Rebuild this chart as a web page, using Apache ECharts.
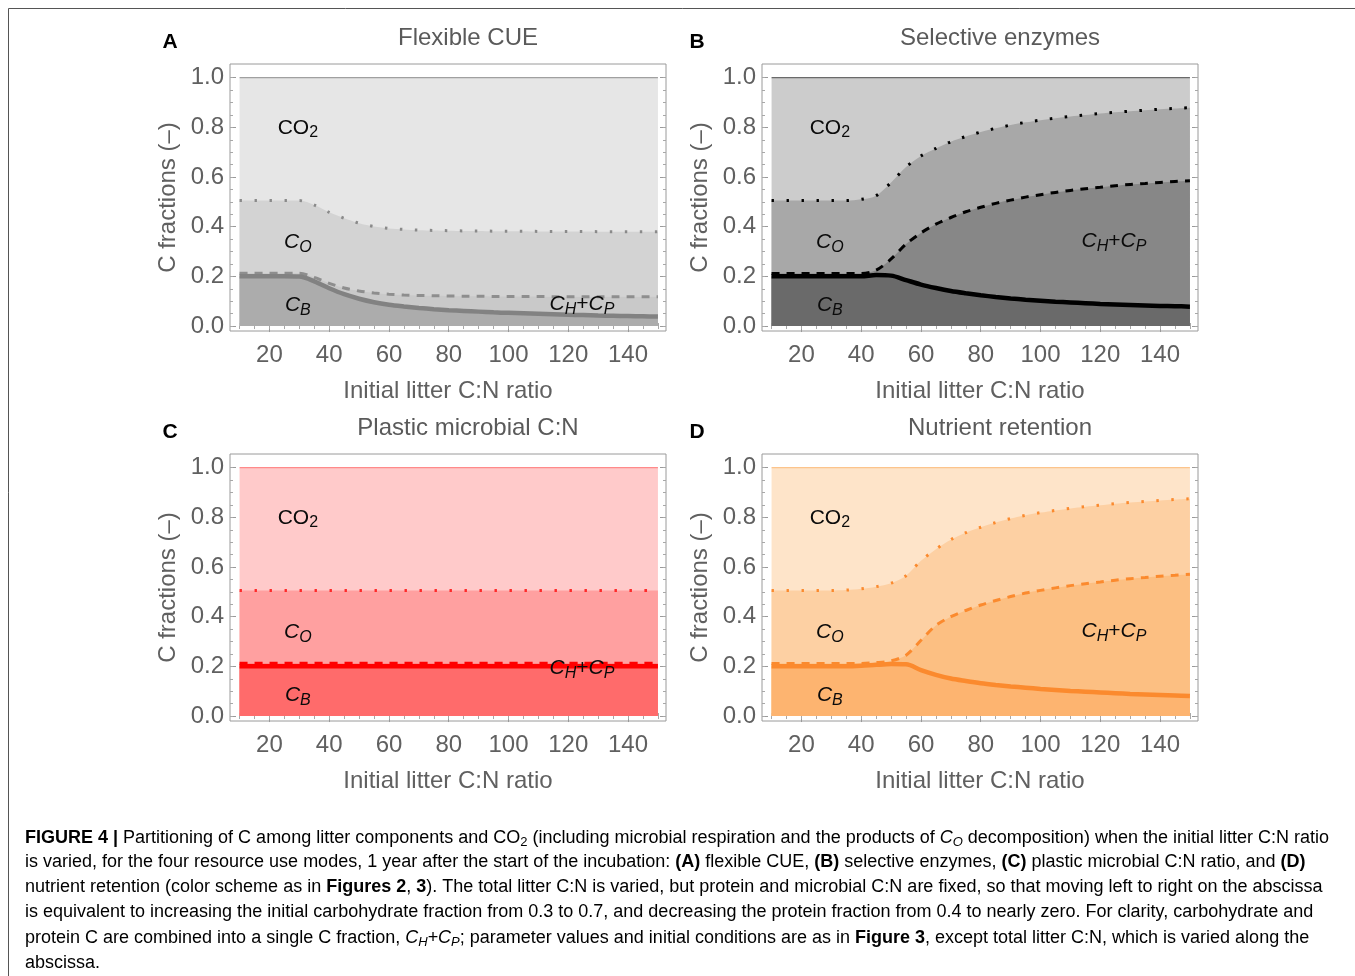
<!DOCTYPE html>
<html>
<head>
<meta charset="utf-8">
<title>Figure 4</title>
<script src="https://cdn.jsdelivr.net/npm/echarts@6.0.0/dist/echarts.min.js"></script>
<style>
html,body{margin:0;padding:0;background:#fff;}
#chart{width:1355px;height:976px;}
</style>
</head>
<body>
<div id="chart"></div>
<script>
// initial litter C:N (abscissa)
var cn = [10,15,20,25,30,35,40,45,50,55,60,65,70,75,80,85,90,95,100,105,110,115,120,125,130,135,140,145,150];
var xTicks = [20,40,60,80,100,120,140];
var xMinor = [10,15,20,25,30,35,40,45,50,55,60,65,70,75,80,85,90,95,100,105,110,115,120,125,130,135,140,145,150];
var yTicks = [0,0.2,0.4,0.6,0.8,1.0];
var yMinor = [0,0.05,0.1,0.15,0.2,0.25,0.3,0.35,0.4,0.45,0.5,0.55,0.6,0.65,0.7,0.75,0.8,0.85,0.9,0.95,1.0];
// total (top of CO2 band)
var total = [1,1,1,1,1,1,1,1,1,1,1,1,1,1,1,1,1,1,1,1,1,1,1,1,1,1,1,1,1];

// A flexible CUE : C_B (solid), C_B+C_H+C_P (dashed), +C_O (dotted)
var cueB  = [0.200,0.200,0.200,0.200,0.199,0.180,0.152,0.128,0.110,0.096,0.086,0.079,0.073,0.068,0.064,0.061,0.058,0.055,0.053,0.051,0.049,0.047,0.045,0.044,0.042,0.041,0.040,0.039,0.038];
var cueHP = [0.213,0.213,0.213,0.213,0.213,0.196,0.172,0.153,0.141,0.133,0.128,0.125,0.123,0.122,0.121,0.120,0.120,0.119,0.119,0.119,0.119,0.118,0.118,0.118,0.118,0.118,0.118,0.118,0.118];
var cueO  = [0.505,0.505,0.505,0.505,0.505,0.487,0.458,0.434,0.414,0.401,0.393,0.389,0.386,0.385,0.384,0.383,0.383,0.382,0.382,0.382,0.381,0.381,0.381,0.381,0.380,0.380,0.380,0.380,0.380];

// B selective enzymes
var enzB  = [0.200,0.200,0.200,0.200,0.200,0.200,0.200,0.205,0.203,0.185,0.167,0.153,0.141,0.132,0.124,0.117,0.111,0.106,0.102,0.098,0.095,0.092,0.089,0.087,0.085,0.083,0.081,0.080,0.078];
var enzHP = [0.212,0.212,0.212,0.212,0.212,0.212,0.212,0.225,0.270,0.330,0.375,0.410,0.437,0.460,0.478,0.494,0.507,0.519,0.529,0.538,0.546,0.553,0.559,0.565,0.570,0.574,0.578,0.582,0.585];
var enzO  = [0.505,0.505,0.505,0.505,0.505,0.505,0.510,0.525,0.578,0.640,0.685,0.715,0.742,0.763,0.781,0.796,0.809,0.820,0.829,0.837,0.844,0.850,0.856,0.861,0.865,0.869,0.873,0.876,0.879];

// C plastic microbial C:N
var plaB  = [0.200,0.200,0.200,0.200,0.200,0.200,0.200,0.200,0.200,0.200,0.200,0.200,0.200,0.200,0.200,0.200,0.200,0.200,0.200,0.200,0.200,0.200,0.200,0.200,0.200,0.200,0.200,0.200,0.200];
var plaHP = [0.213,0.213,0.213,0.213,0.213,0.213,0.213,0.213,0.213,0.213,0.213,0.213,0.213,0.213,0.213,0.213,0.213,0.213,0.213,0.213,0.213,0.213,0.213,0.213,0.213,0.213,0.213,0.213,0.213];
var plaO  = [0.505,0.505,0.505,0.505,0.505,0.505,0.505,0.505,0.505,0.505,0.505,0.505,0.505,0.505,0.505,0.505,0.505,0.505,0.505,0.505,0.505,0.505,0.505,0.505,0.505,0.505,0.505,0.505,0.505];

// D nutrient retention
var nutB  = [0.200,0.200,0.200,0.200,0.200,0.200,0.202,0.206,0.209,0.208,0.185,0.166,0.151,0.141,0.132,0.125,0.119,0.114,0.109,0.105,0.101,0.098,0.095,0.092,0.089,0.087,0.085,0.083,0.081];
var nutHP = [0.212,0.212,0.212,0.212,0.212,0.212,0.212,0.215,0.222,0.245,0.305,0.365,0.400,0.425,0.447,0.465,0.481,0.495,0.506,0.516,0.525,0.533,0.540,0.547,0.553,0.558,0.563,0.567,0.571];
var nutO  = [0.505,0.505,0.505,0.505,0.505,0.507,0.512,0.521,0.535,0.565,0.625,0.672,0.710,0.738,0.760,0.779,0.795,0.808,0.819,0.828,0.836,0.843,0.849,0.855,0.860,0.864,0.868,0.872,0.875];

var font = 'Liberation Sans, Arial, Helvetica, sans-serif';
var axisGray = '#606060';

var panels = [
	{letter:'A', letterX:170, title:'Flexible CUE', left:230, top:64, b:cueB, hp:cueHP, o:cueO,
		fill:['#e6e6e6','#d3d3d3','#c9c9c9','#acacac'], topLine:'#a0a0a0', lineC:['#8a8a8a','#8e8e8e','#828282'],
		labels:[['co2',29.5,0.797],['co',29.5,0.338],['cb',29.5,0.084],['chp',124.6,0.088]]},
	{letter:'B', letterX:697, title:'Selective enzymes', left:762, top:64, b:enzB, hp:enzHP, o:enzO,
		fill:['#cccccc','#a8a8a8','#878787','#6a6a6a'], topLine:'#6a6a6a', lineC:['#000','#000','#000'],
		labels:[['co2',29.5,0.797],['co',29.5,0.338],['cb',29.5,0.084],['chp',124.6,0.342]]},
	{letter:'C', letterX:170, title:'Plastic microbial C:N', left:230, top:454, b:plaB, hp:plaHP, o:plaO,
		fill:['#ffcaca','#ffa0a0','#ff8585','#ff6b6b'], topLine:'#ff8a8a', lineC:['#ff2a2a','#ff0000','#ff0000'],
		labels:[['co2',29.5,0.797],['co',29.5,0.338],['cb',29.5,0.084],['chp',124.6,0.192]]},
	{letter:'D', letterX:697, title:'Nutrient retention', left:762, top:454, b:nutB, hp:nutHP, o:nutO,
		fill:['#fee4c9','#fdd0a3','#fcbf82','#fdb470'], topLine:'#fcc48c', lineC:['#fb8a2e','#fb8a2e','#fb8a2e'],
		labels:[['co2',29.5,0.797],['co',29.5,0.338],['cb',29.5,0.084],['chp',124.6,0.342]]}
];

// labels inside the plots
var labelText = {
	co2: '{n|CO}{s|2}',
	co: '{i|C}{si|O}',
	cb: '{i|C}{si|B}',
	chp: '{i|C}{si|H}{n|+}{i|C}{si|P}'
};
var plotRich = {
	n: {fontFamily:font, fontSize:21, fill:'#0a0a0a', lineHeight:26},
	i: {fontFamily:font, fontSize:21, fontStyle:'italic', fill:'#0a0a0a', lineHeight:26},
	s: {fontFamily:font, fontSize:16, fill:'#0a0a0a', lineHeight:16, padding:[10,0,0,0]},
	si: {fontFamily:font, fontSize:16, fontStyle:'italic', fill:'#0a0a0a', lineHeight:16, padding:[10,0,0,0]}
};

function pairs(vals){
	return cn.map(function(x, k){ return [x, vals[k]]; });
}

var grids = [], xAxes = [], yAxes = [], series = [], graphics = [];

panels.forEach(function(p, i){
	grids.push({left:p.left, top:p.top, width:436, height:267, show:true, borderColor:'#9a9a9a', borderWidth:1});
	var ax = xAxes.length, ay = yAxes.length;
	p.ax = ax; p.ay = ay;
	// x axes: bottom major/minor, top major/minor
	['bottom','top'].forEach(function(pos){
		xAxes.push({type:'value', gridIndex:i, position:pos, min:6.8, max:152.7,
			axisLine:{show:false}, splitLine:{show:false},
			axisTick:{inside:true, length:6, lineStyle:{color:'#9a9a9a'}, customValues:xTicks},
			axisLabel: pos === 'bottom' ? {customValues:xTicks, margin:12, fontFamily:font, fontSize:24, color:axisGray} : {show:false},
			name: pos === 'bottom' ? 'Initial litter C:N ratio' : '',
			nameLocation:'middle', nameGap:48,
			nameTextStyle:{fontFamily:font, fontSize:24, color:axisGray}});
		xAxes.push({type:'value', gridIndex:i, position:pos, min:6.8, max:152.7,
			axisLine:{show:false}, splitLine:{show:false}, axisLabel:{show:false},
			axisTick:{inside:true, length:3, lineStyle:{color:'#a8a8a8'}, customValues:xMinor}});
	});
	['left','right'].forEach(function(pos){
		yAxes.push({type:'value', gridIndex:i, position:pos, min:-0.02, max:1.055,
			axisLine:{show:false}, splitLine:{show:false},
			axisTick:{inside:true, length:6, lineStyle:{color:'#9a9a9a'}, customValues:yTicks},
			axisLabel: pos === 'left' ? {customValues:yTicks, margin:6, fontFamily:font, fontSize:24, color:axisGray,
				formatter:function(v){ return v.toFixed(1); }} : {show:false},
			name: pos === 'left' ? 'C fractions (\u2013)' : '',
			nameLocation:'middle', nameGap:50,
			nameTextStyle:{fontFamily:font, fontSize:24, color:axisGray}});
		yAxes.push({type:'value', gridIndex:i, position:pos, min:-0.02, max:1.055,
			axisLine:{show:false}, splitLine:{show:false}, axisLabel:{show:false},
			axisTick:{inside:true, length:3, lineStyle:{color:'#a8a8a8'}, customValues:yMinor}});
	});

	// bands drawn top first, each filled down to 0
	var bands = [
		[total, p.fill[0], {color:p.topLine, width:1.2}],
		[p.o, p.fill[1], {color:p.lineC[0], width:3, type:[2.5,12.5]}],
		[p.hp, p.fill[2], {color:p.lineC[1], width:3, type:[8,7]}],
		[p.b, p.fill[3], {color:p.lineC[2], width:4.5}]
	];
	bands.forEach(function(bd){
		series.push({type:'line', xAxisIndex:ax, yAxisIndex:ay, data:pairs(bd[0]),
			symbol:'none', smooth:0.3, silent:true,
			lineStyle:bd[2], areaStyle:{color:bd[1], opacity:1}});
	});

	// title + panel letter
	graphics.push({type:'text', x:p.left + 238, y:p.top - 26,
		style:{text:p.title, fill:'#5a5a5a', font:'24px ' + font, textAlign:'center', textVerticalAlign:'middle'}});
	graphics.push({type:'text', x:p.letterX, y:p.top - 22,
		style:{text:p.letter, fill:'#000', font:'bold 21px ' + font, textAlign:'center', textVerticalAlign:'middle'}});
});

// caption
var capRich = {
	t: {fontFamily:font, fontSize:18, color:'#383838', lineHeight:22},
	b: {fontFamily:font, fontSize:18, fontWeight:'bold', color:'#222', lineHeight:22},
	i: {fontFamily:font, fontSize:18, fontStyle:'italic', color:'#383838', lineHeight:22},
	s: {fontFamily:font, fontSize:13, color:'#383838', lineHeight:13, padding:[9,0,0,0]},
	si: {fontFamily:font, fontSize:13, fontStyle:'italic', color:'#383838', lineHeight:13, padding:[9,0,0,0]}
};
var capLines = [
	'{b|FIGURE 4 |}{t| Partitioning of C among litter components and CO}{s|2}{t| (including microbial respiration and the products of }{i|C}{si|O}{t| decomposition) when the initial litter C:N ratio}',
	'{t|is varied, for the four resource use modes, 1 year after the start of the incubation: }{b|(A)}{t| flexible CUE, }{b|(B)}{t| selective enzymes, }{b|(C)}{t| plastic microbial C:N ratio, and }{b|(D)}',
	'{t|nutrient retention (color scheme as in }{b|Figures 2}{t|, }{b|3}{t|). The total litter C:N is varied, but protein and microbial C:N are fixed, so that moving left to right on the abscissa}',
	'{t|is equivalent to increasing the initial carbohydrate fraction from 0.3 to 0.7, and decreasing the protein fraction from 0.4 to nearly zero. For clarity, carbohydrate and}',
	'{t|protein C are combined into a single C fraction, }{i|C}{si|H}{i|+C}{si|P}{t|; parameter values and initial conditions are as in }{b|Figure 3}{t|, except total litter C:N, which is varied along the}',
	'{t|abscissa.}'
];
var capY = [838, 862, 887, 912, 938, 963];
capLines.forEach(function(line, k){
	graphics.push({type:'text', x:25, y:capY[k],
		style:{text:line, rich:capRich, textVerticalAlign:'middle'}});
});

// outer figure frame
graphics.push({type:'rect', shape:{x:8.5, y:8.5, width:1400, height:1000},
	style:{fill:'none', stroke:'#555', lineWidth:1}, z:-10});

var chart = echarts.init(document.getElementById('chart'));
chart.setOption({
	animation:false,
	backgroundColor:'#fff',
	grid:grids,
	xAxis:xAxes,
	yAxis:yAxes,
	series:series,
	graphic:graphics
});

// region names: data coords -> pixels through the axes
var names = [];
panels.forEach(function(p){
	p.labels.forEach(function(l){
		var pt = chart.convertToPixel({xAxisIndex:p.ax, yAxisIndex:p.ay}, [l[1], l[2]]);
		names.push({type:'text', x:pt[0], y:pt[1], z:100,
			style:{text:labelText[l[0]], rich:plotRich, fill:'#0a0a0a', textAlign:'center', textVerticalAlign:'middle'}});
	});
});
chart.setOption({graphic:graphics.concat(names)});
</script>
</body>
</html>
